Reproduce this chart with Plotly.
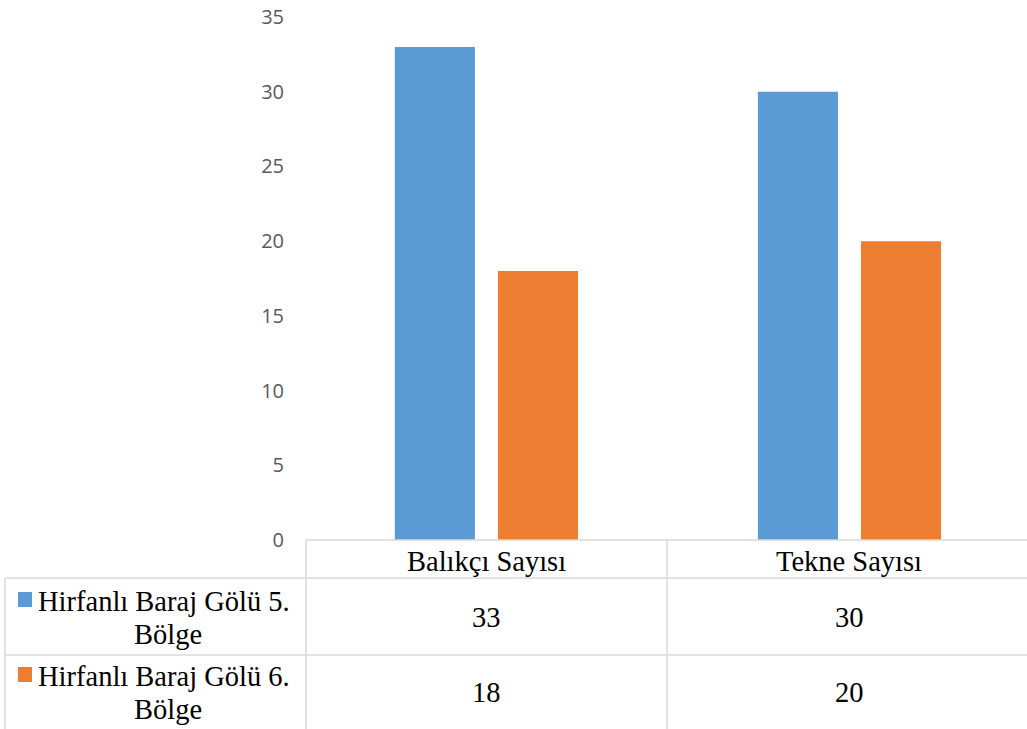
import plotly.graph_objects as go

categories = ["Balıkçı Sayısı", "Tekne Sayısı"]
series_line1 = ["Hirfanlı Baraj Gölü 5.", "Hirfanlı Baraj Gölü 6."]
series_line2 = ["Bölge", "Bölge"]
values_5 = [33, 30]
values_6 = [18, 20]
colors = ["#5b9bd5", "#ed7d31"]
y_ticks = [0, 5, 10, 15, 20, 25, 30, 35]

W, H = 1027, 729
def px(x): return x / W
def py(y): return (H - y) / H

fig = go.Figure()
for l1, l2, vals, col in zip(series_line1, series_line2, [values_5, values_6], colors):
    fig.add_trace(go.Bar(x=categories, y=vals, name=l1 + " " + l2,
                         marker=dict(color=col, line=dict(width=0)), showlegend=False))

fig.update_layout(
    template="none",
    width=W, height=H, margin=dict(l=0, r=0, t=0, b=0, autoexpand=False),
    paper_bgcolor="white", plot_bgcolor="white",
    barmode="group", bargap=0.432, bargroupgap=0.223,
    xaxis=dict(domain=[px(306), 1.0], range=[-0.497, 1.489], showticklabels=False, showgrid=False,
               zeroline=False, showline=False, ticks="", automargin=False),
    yaxis=dict(domain=[py(540), py(17)], range=[0, 35], tickvals=y_ticks,
               showgrid=False, zeroline=False, showline=False, ticks="",
               ticklabelstandoff=21, automargin=False,
               tickfont=dict(family="Open Sans", size=20, color="#595959")),
)

lc = "#d9d9d9"
lines = [
    (306, 540, 1027, 540), (5, 578, 1027, 578), (5, 655, 1027, 655),
    (306, 540, 306, 729), (667, 540, 667, 729), (5, 578, 5, 729),
]
for x0, y0, x1, y1 in lines:
    fig.add_shape(type="line", xref="paper", yref="paper", x0=px(x0), y0=py(y0), x1=px(x1), y1=py(y1),
                  line=dict(color=lc, width=1.5))

tfont = dict(family="Liberation Serif", size=28.5, color="black")
# header row
for c in categories:
    fig.add_annotation(x=c, y=py(561), xref="x", yref="paper", text=c, showarrow=False, font=tfont,
                       xanchor="center", yanchor="middle")
row_centers = [617, 692]
for ri, (l1, l2, vals, col) in enumerate(zip(series_line1, series_line2, [values_5, values_6], colors)):
    yc = row_centers[ri]
    for c, v in zip(categories, vals):
        fig.add_annotation(x=c, y=py(yc), xref="x", yref="paper", text=str(v), showarrow=False,
                           font=tfont, xanchor="center", yanchor="middle")
    fig.add_annotation(x=px(164), y=py(yc - 16), xref="paper", yref="paper", text=l1, showarrow=False,
                       font=tfont, xanchor="center", yanchor="middle")
    fig.add_annotation(x=px(168), y=py(yc + 17), xref="paper", yref="paper", text=l2, showarrow=False,
                       font=tfont, xanchor="center", yanchor="middle")
    sq_top = yc - 25
    fig.add_shape(type="rect", xref="paper", yref="paper", x0=px(18), x1=px(32),
                  y0=py(sq_top), y1=py(sq_top + 15), fillcolor=col, line=dict(width=0))

fig.write_html("out.html")
